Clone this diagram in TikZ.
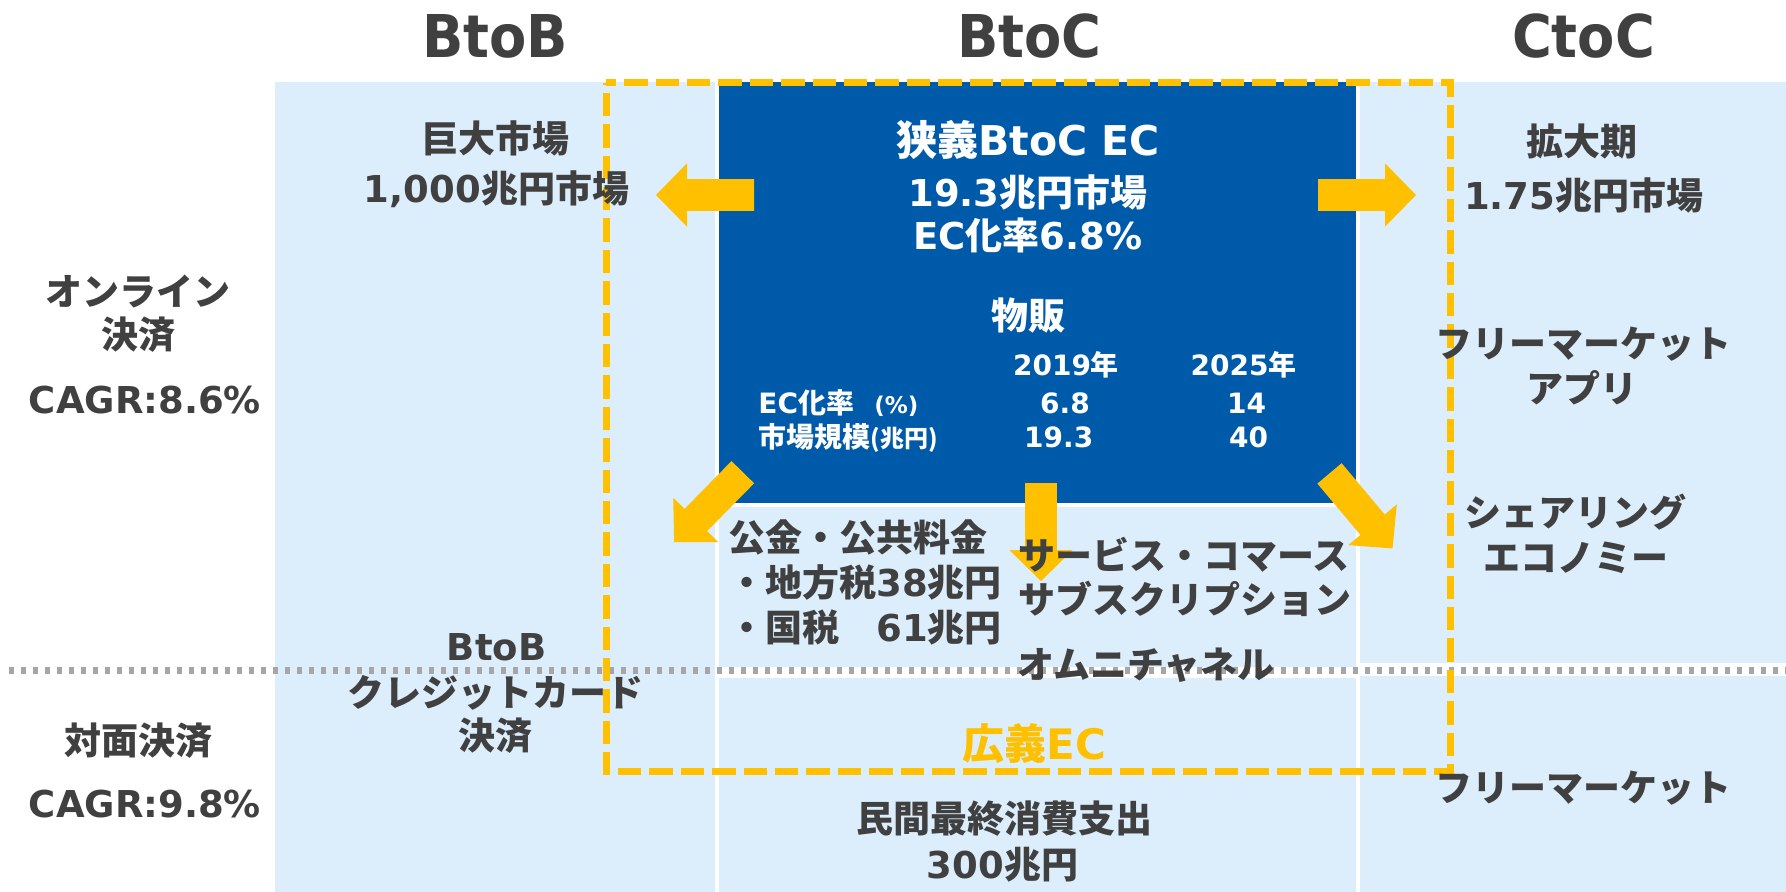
\documentclass[tikz,border=0pt]{standalone}
\usepackage{fontspec}
\setmainfont{Noto Sans CJK JP}
\newfontfamily\latfont{DejaVu Sans}
\newfontfamily\hdrfont{DejaVu Sans}[FakeStretch=0.92]
\newcommand{\La}[1]{{\latfont #1}}
\definecolor{lightbg}{HTML}{DCEDFC}
\definecolor{darkbox}{HTML}{005AAA}
\definecolor{ecyellow}{HTML}{FFC000}
\definecolor{txtgray}{HTML}{404040}
\definecolor{dotgray}{HTML}{A6A6A6}
\tikzset{
  txt/.style={inner sep=0pt, text=txtgray, font=\bfseries\fontsize{18.5}{22}\selectfont},
  wtxt/.style={txt, text=white},
  ttl/.style={wtxt, font=\bfseries\fontsize{20.5}{24}\selectfont},
  tbl/.style={wtxt, font=\bfseries\fontsize{14}{17}\selectfont},
  hdr/.style={inner sep=0pt, text=txtgray, font=\hdrfont\bfseries\fontsize{29.5}{34}\selectfont},
  ectxt/.style={inner sep=0pt, text=ecyellow, font=\bfseries\fontsize{21}{25}\selectfont},
  blockarrow/.pic={\fill[ecyellow] (0,-15.85) -- (67,-15.85) -- (67,-31.7) -- (98,0)
      -- (67,31.7) -- (67,15.85) -- (0,15.85) -- cycle;}
}
\begin{document}
\begin{tikzpicture}[x=0.5pt,y=-0.5pt]
\useasboundingbox (0,0) rectangle (1786,892);
% backgrounds
\fill[lightbg] (275,82) rectangle (715,892);
\fill[darkbox] (719,82) rectangle (1356,503);
\fill[lightbg] (719,507) rectangle (1356,667);
\fill[lightbg] (719,678) rectangle (1356,892);
\fill[lightbg] (1360,82) rectangle (1786,663);
\fill[lightbg] (1360,676) rectangle (1786,892);
% dotted separator
\draw[dotgray, line width=3.3pt, dash pattern=on 2.5pt off 3.5pt] (9,670.5) -- (1786,670.5);
% wide EC frame
\draw[ecyellow, line width=3.5pt, dash pattern=on 11.7pt off 4pt, dash phase=6.65pt] (606,82.7) -- (1450,82.7) -- (1450,771.7) -- (606,771.7) -- cycle;
% arrows
\pic[rotate=180] at (754,195) {blockarrow};
\pic at (1318,195) {blockarrow};
\pic[rotate=-90] at (1041,483) {blockarrow};
\pic[rotate=-134.5] at (742.8,472.2) {blockarrow};
\pic[rotate=-50] at (1329.5,473.4) {blockarrow};
% headers
\node[hdr, anchor=base] (hBtoB) at (495,58) {BtoB};
\node[hdr, anchor=base] (hBtoC) at (1029.5,58) {BtoC};
\node[hdr, anchor=base] (hCtoC) at (1583.5,58) {CtoC};
% left labels
\node[txt, anchor=base] (onl1) at (138,306) {オンライン};
\node[txt, anchor=base] (onl2) at (138,349) {決済};
\node[txt, anchor=base] (cagr1) at (145,414) {\La{CAGR:8.6\%}};
\node[txt, anchor=base] (face) at (138,754) {対面決済};
\node[txt, anchor=base] (cagr2) at (145,817) {\La{CAGR:9.8\%}};
% BtoB column
\node[txt, anchor=base] (b1) at (495,152.5) {巨大市場};
\node[txt, anchor=base] (b2) at (496.5,203) {\La{1,000}兆円市場};
\node[txt, anchor=base] (b3) at (496.6,660) {\La{BtoB}};
\node[txt, anchor=base] (b4) at (495,706) {クレジットカード};
\node[txt, anchor=base] (b5) at (495,749) {決済};
% dark box
\node[ttl, anchor=base] (c1) at (1028,156) {狭義\La{BtoC EC}};
\node[wtxt, anchor=base] (c2) at (1028,207) {\La{19.3}兆円市場};
\node[wtxt, anchor=base] (c3) at (1028,250) {\La{EC}化率\La{6.8\%}};
\node[wtxt, anchor=base] (c4) at (1028,330) {物販};
\node[tbl, anchor=base] (y19) at (1066,375.5) {\La{2019}年};
\node[tbl, anchor=base] (y25) at (1243.5,375.5) {\La{2025}年};
\node[tbl, anchor=base west] (r1) at (758,414) {\La{EC}化率};
\node[tbl, anchor=base west, font=\bfseries\fontsize{11.5}{14}\selectfont] (r1u) at (874,414) {\La{(\%)}};
\node[tbl, anchor=base west] (r2) at (758,448) {市場規模{\fontsize{12}{14}\selectfont(兆円)}};
\node[tbl, anchor=base] (v1) at (1065,414) {\La{6.8}};
\node[tbl, anchor=base] (v2) at (1246.5,414) {\La{14}};
\node[tbl, anchor=base] (v3) at (1058.7,448) {\La{19.3}};
\node[tbl, anchor=base] (v4) at (1248.5,448) {\La{40}};
% lower middle
\node[txt, anchor=base west] (m1) at (728,551) {公金・公共料金};
\node[txt, anchor=base west] (m2) at (728,596) {・地方税\La{38}兆円};
\node[txt, anchor=base west] (m3) at (728,641) {・国税　\La{61}兆円};
\node[txt, anchor=base west] (s1) at (1018,569.5) {サービス・コマース};
\node[txt, anchor=base west] (s2) at (1018,613) {サブスクリプション};
\node[txt, anchor=base west] (s3) at (1017,678) {オムニチャネル};
\node[ectxt, anchor=base] (wide) at (1034.5,759) {広義\La{EC}};
\node[txt, anchor=base] (p1) at (1004,832.5) {民間最終消費支出};
\node[txt, anchor=base] (p2) at (1002.6,878) {\La{300}兆円};
% CtoC column
\node[txt, anchor=base] (r01) at (1581.7,155.5) {拡大期};
\node[txt, anchor=base] (r02) at (1583.8,209.5) {\La{1.75}兆円市場};
\node[txt, anchor=base] (r03) at (1583.3,358) {フリーマーケット};
\node[txt, anchor=base] (r04) at (1581.7,403) {アプリ};
\node[txt, anchor=base] (r05) at (1575.5,526) {シェアリング};
\node[txt, anchor=base] (r06) at (1575.8,571) {エコノミー};
\node[txt, anchor=base] (r07) at (1583.5,801) {フリーマーケット};
\end{tikzpicture}
\end{document}
